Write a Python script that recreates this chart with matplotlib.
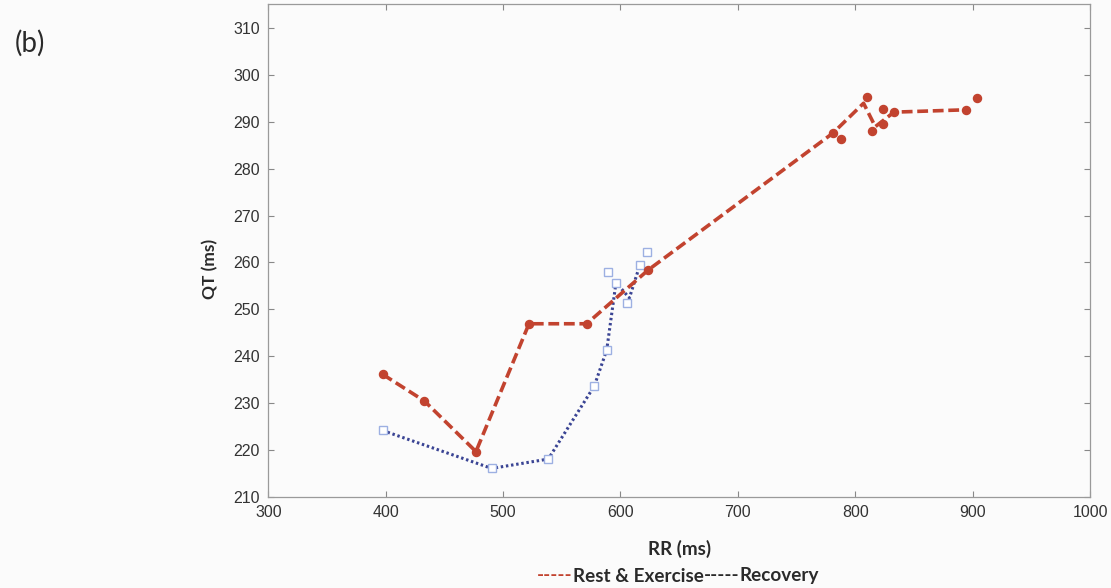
import matplotlib
matplotlib.use("Agg")
import matplotlib.pyplot as plt

# Rest & Exercise: measured beats (markers) and connecting trace
rest_rr = [397.4, 433.0, 476.9, 522.1, 571.2, 623.7, 780.9, 788.0, 810.4,
           814.1, 823.4, 823.4, 833.0, 894.1, 903.9]
rest_qt = [236.1, 230.4, 219.6, 246.9, 246.9, 258.4, 287.6, 286.4, 295.4,
           288.1, 292.7, 289.5, 292.1, 292.6, 295.1]
rest_line_rr = [397.4, 433.0, 476.9, 522.1, 571.2, 623.7, 780.9, 807.1,
                817.1, 833.0, 894.1]
rest_line_qt = [236.1, 230.4, 219.6, 246.9, 246.9, 258.4, 287.6, 294.0,
                289.0, 292.1, 292.6]

# Recovery: measured beats (markers) and connecting trace
rec_rr = [397.4, 490.3, 538.5, 577.7, 588.3, 589.6, 596.2, 605.3, 616.6, 622.3]
rec_qt = [224.1, 216.0, 218.0, 233.6, 241.3, 258.0, 255.7, 251.4, 259.5, 262.3]
rec_line_rr = [397.4, 490.3, 538.5, 577.7, 588.3, 596.2, 607.6, 616.6]
rec_line_qt = [224.1, 216.0, 218.0, 233.6, 241.3, 255.7, 252.4, 259.5]

x_ticks = [300, 400, 500, 600, 700, 800, 900, 1000]
y_ticks = [210, 220, 230, 240, 250, 260, 270, 280, 290, 300, 310]

RED = "#c2432f"
NAVY = "#3a4494"
SQ = "#9db0e2"
TXT = "#2a2a2a"

fig = plt.figure(figsize=(11.11, 5.88), dpi=100)
fig.patch.set_facecolor("#fbfbfb")
ax = fig.add_axes([0.2415, 0.1556, 0.7396, 0.8376])
ax.set_facecolor("#fbfbfb")

ax.plot(rec_line_rr, rec_line_qt, color=NAVY, lw=2.2, linestyle=(0, (0.8, 0.9)),
        zorder=2)
ax.plot(rec_rr, rec_qt, linestyle="none", marker="s", markersize=5.8,
        markerfacecolor="white", markeredgecolor=SQ, markeredgewidth=1.0,
        zorder=3)

ax.plot(rest_line_rr, rest_line_qt, color=RED, lw=2.6,
        linestyle=(0, (3.0, 1.3)), zorder=4)
ax.plot(rest_rr, rest_qt, linestyle="none", marker="o", markersize=5.8,
        color=RED, zorder=5)

ax.set_xlim(300, 1000)
ax.set_ylim(210, 315.2)
ax.set_xticks(x_ticks)
ax.set_yticks(y_ticks)
ax.tick_params(direction="in", length=4, width=0.8, colors="#888888",
               labelcolor="#333333", labelsize=11.5, top=True, right=True,
               pad=6)
for lab in ax.get_xticklabels() + ax.get_yticklabels():
    lab.set_family("Liberation Sans")
for sp in ax.spines.values():
    sp.set_color("#9a9a9a")
    sp.set_linewidth(0.9)

lbl_font = dict(family=["Lato", "DejaVu Sans"], weight="bold", color=TXT)
fig.text(210 / 1111, 1 - 269 / 588, "QT (ms)", rotation=90, ha="center",
         va="center", fontsize=12.5, **lbl_font)
fig.text(680 / 1111, 1 - 549 / 588, "RR (ms)", ha="center", va="center",
         fontsize=13.5, **lbl_font)
fig.text(30 / 1111, 1 - 43 / 588, "(b)", ha="center", va="center",
         fontsize=20, family=["Lato", "DejaVu Sans"], color=TXT)

# Legend line built from coloured pieces of text
pieces = [("-----", RED), ("Rest & Exercise", TXT), ("-----", TXT),
          ("Recovery", TXT)]
renderer = fig.canvas.get_renderer()
x0 = 537 / 1111
y0 = 1 - 576 / 588
for s, c in pieces:
    t = fig.text(x0, y0, s, ha="left", va="center", fontsize=13.6,
                 family=["Lato", "DejaVu Sans"], weight="bold", color=c)
    bb = t.get_window_extent(renderer=renderer)
    x0 += bb.width / fig.bbox.width

fig.savefig("out.png", dpi=100, facecolor=fig.get_facecolor())
